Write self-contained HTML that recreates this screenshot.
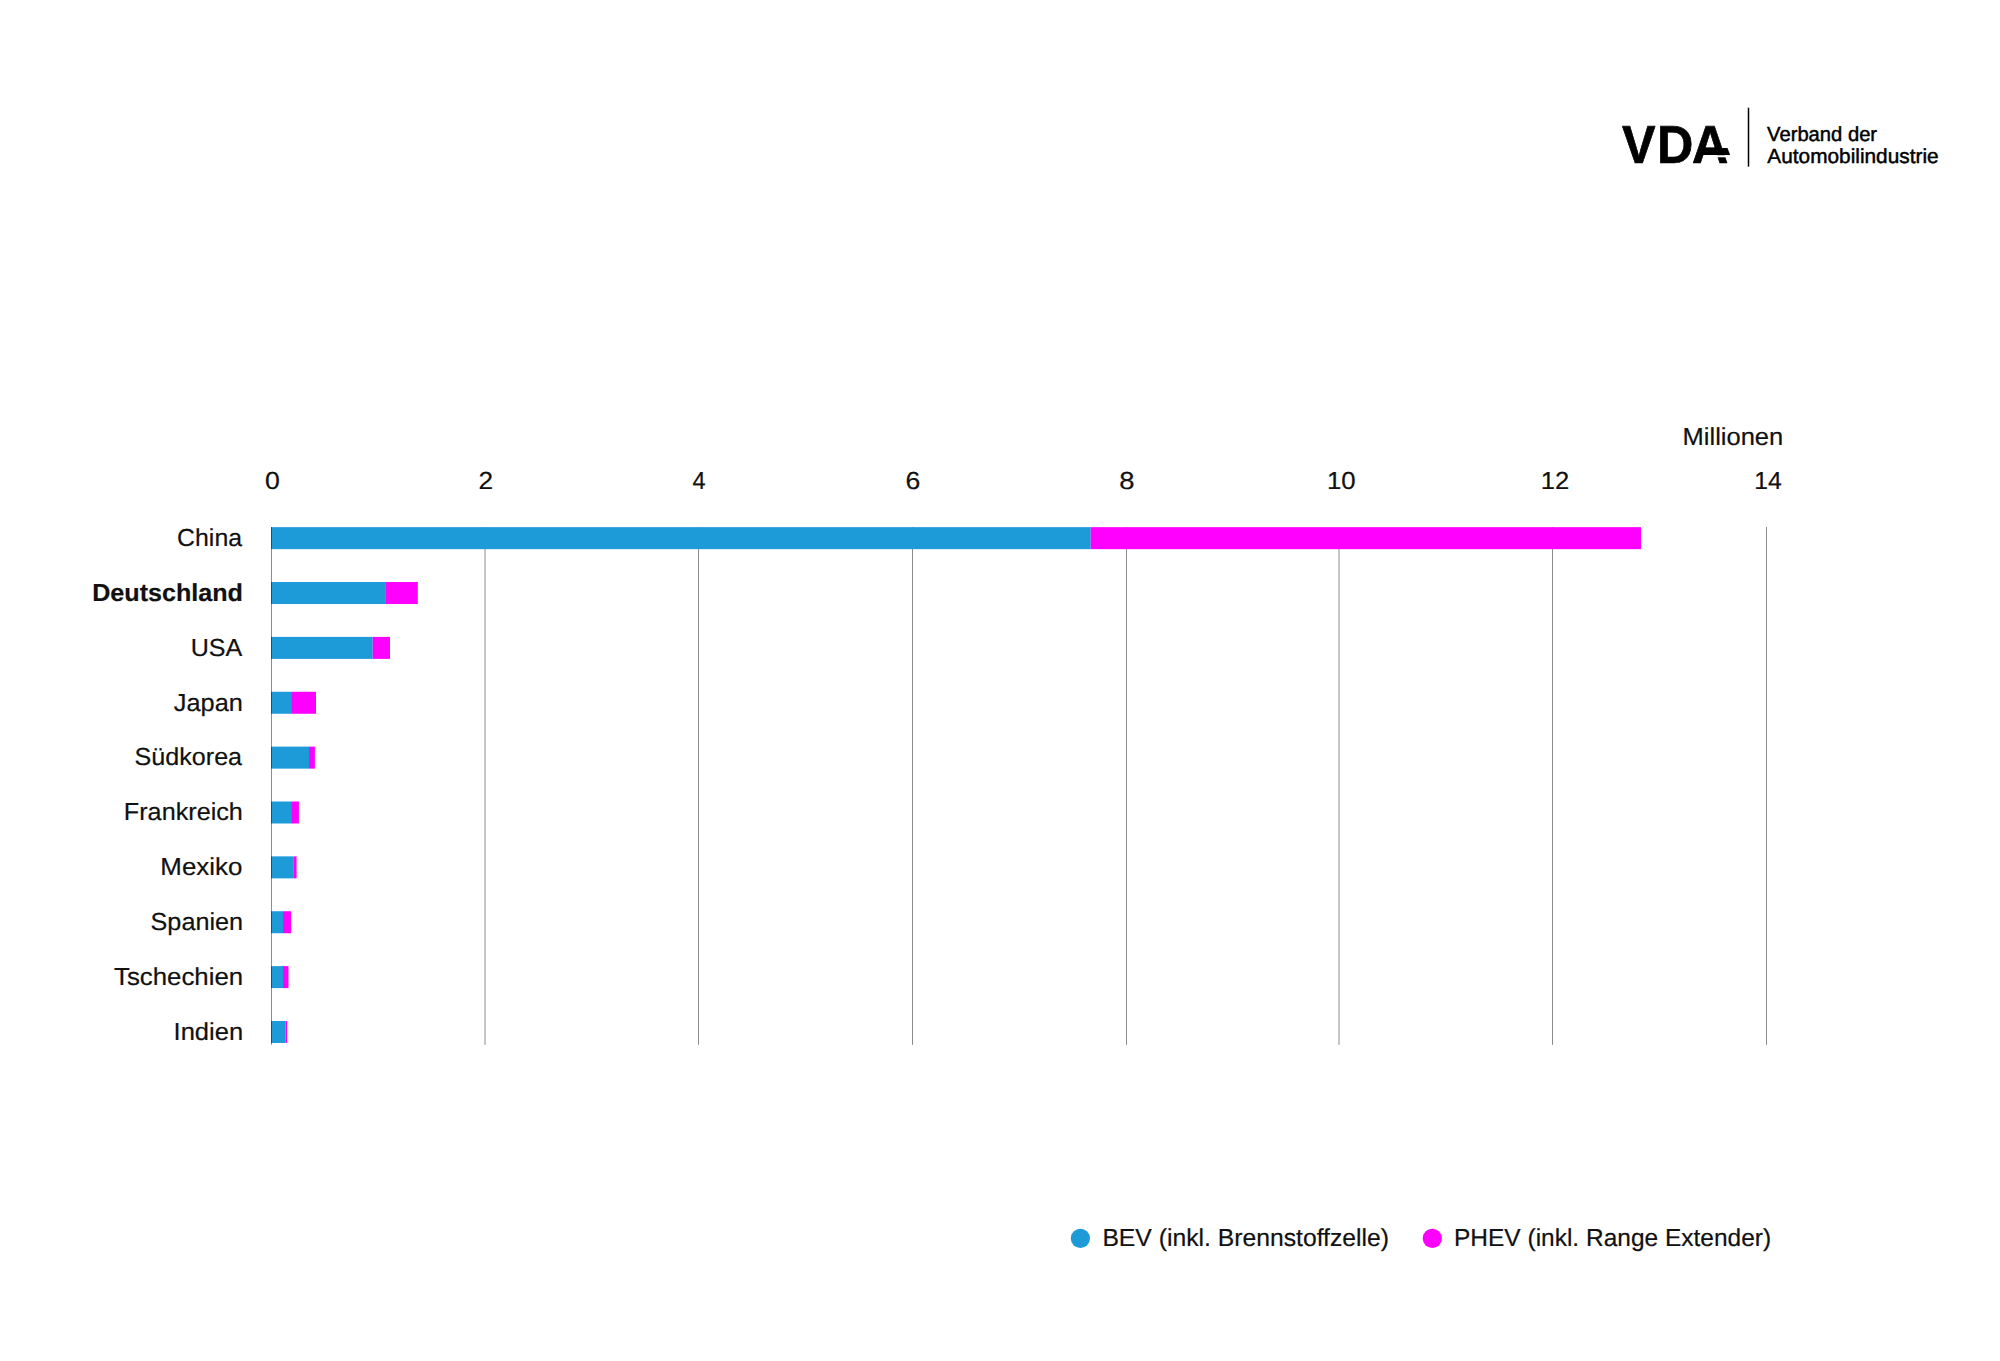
<!DOCTYPE html>
<html lang="de">
<head>
<meta charset="utf-8">
<title>Produktion von Elektro-Pkw nach Ländern</title>
<style>
html,body{margin:0;padding:0;background:#fff;}
body{width:2000px;height:1361px;overflow:hidden;}
svg{display:block;}
text{font-family:"Liberation Sans",Arial,Helvetica,sans-serif;fill:#111111;text-rendering:geometricPrecision;}
.t{font-size:24.6px;stroke:#111111;stroke-width:0.2px;}
.b{font-weight:700;}
.lg{font-size:20.4px;fill:#000;stroke:#000;stroke-width:0.45px;}
</style>
</head>
<body>
<svg width="2000" height="1361" viewBox="0 0 2000 1361">
<rect width="2000" height="1361" fill="#ffffff"/>
<g id="grid" stroke="#8c8c8c" stroke-width="1">
<line x1="485.0" y1="527" x2="485.0" y2="1044.8"/>
<line x1="698.5" y1="527" x2="698.5" y2="1044.8"/>
<line x1="912.5" y1="527" x2="912.5" y2="1044.8"/>
<line x1="1126.5" y1="527" x2="1126.5" y2="1044.8"/>
<line x1="1339.0" y1="527" x2="1339.0" y2="1044.8"/>
<line x1="1552.5" y1="527" x2="1552.5" y2="1044.8"/>
<line x1="1766.5" y1="527" x2="1766.5" y2="1044.8"/>
</g>
<g id="bars">
<rect x="271" y="527.15" width="819.70" height="22.0" fill="#1c9bd8"/><rect x="1090.70" y="527.15" width="550.30" height="22.0" fill="#ff00ff"/>
<rect x="271" y="582.02" width="114.90" height="22.0" fill="#1c9bd8"/><rect x="385.90" y="582.02" width="31.90" height="22.0" fill="#ff00ff"/>
<rect x="271" y="636.89" width="101.70" height="22.0" fill="#1c9bd8"/><rect x="372.70" y="636.89" width="17.30" height="22.0" fill="#ff00ff"/>
<rect x="271" y="691.76" width="20.10" height="22.0" fill="#1c9bd8"/><rect x="291.10" y="691.76" width="24.90" height="22.0" fill="#ff00ff"/>
<rect x="271" y="746.63" width="38.00" height="22.0" fill="#1c9bd8"/><rect x="309.00" y="746.63" width="5.90" height="22.0" fill="#ff00ff"/>
<rect x="271" y="801.50" width="20.10" height="22.0" fill="#1c9bd8"/><rect x="291.10" y="801.50" width="7.80" height="22.0" fill="#ff00ff"/>
<rect x="271" y="856.37" width="22.30" height="22.0" fill="#1c9bd8"/><rect x="293.30" y="856.37" width="3.30" height="22.0" fill="#ff00ff"/>
<rect x="271" y="911.24" width="12.00" height="22.0" fill="#1c9bd8"/><rect x="283.00" y="911.24" width="8.10" height="22.0" fill="#ff00ff"/>
<rect x="271" y="966.11" width="12.00" height="22.0" fill="#1c9bd8"/><rect x="283.00" y="966.11" width="5.50" height="22.0" fill="#ff00ff"/>
<rect x="271" y="1020.98" width="14.40" height="22.0" fill="#1c9bd8"/><rect x="285.40" y="1020.98" width="1.80" height="22.0" fill="#ff00ff"/>
</g>
<line x1="271.5" y1="527" x2="271.5" y2="1044.8" stroke="#000000" stroke-opacity="0.45" stroke-width="1"/>
<g id="xaxis">
<text class="t" x="264.94" y="489.00" textLength="14.84" lengthAdjust="spacingAndGlyphs">0</text>
<text class="t" x="478.43" y="489.00" textLength="14.60" lengthAdjust="spacingAndGlyphs">2</text>
<text class="t" x="692.57" y="489.00" textLength="13.06" lengthAdjust="spacingAndGlyphs">4</text>
<text class="t" x="905.57" y="489.00" textLength="14.81" lengthAdjust="spacingAndGlyphs">6</text>
<text class="t" x="1119.24" y="489.00" textLength="15.28" lengthAdjust="spacingAndGlyphs">8</text>
<text class="t" x="1326.94" y="489.00" textLength="28.63" lengthAdjust="spacingAndGlyphs">10</text>
<text class="t" x="1540.74" y="489.00" textLength="28.49" lengthAdjust="spacingAndGlyphs">12</text>
<text class="t" x="1754.31" y="489.00" textLength="27.49" lengthAdjust="spacingAndGlyphs">14</text>
<text class="t" x="1682.54" y="445.20" textLength="100.72" lengthAdjust="spacingAndGlyphs">Millionen</text>
</g>
<g id="labels">
<text class="t" x="177.05" y="545.90" textLength="65.05" lengthAdjust="spacingAndGlyphs">China</text>
<text class="t b" x="92.19" y="600.79" textLength="150.70" lengthAdjust="spacingAndGlyphs">Deutschland</text>
<text class="t" x="190.72" y="655.68" textLength="51.63" lengthAdjust="spacingAndGlyphs">USA</text>
<text class="t" x="173.82" y="710.57" textLength="69.07" lengthAdjust="spacingAndGlyphs">Japan</text>
<text class="t" x="134.51" y="765.46" textLength="107.59" lengthAdjust="spacingAndGlyphs">Südkorea</text>
<text class="t" x="123.84" y="820.35" textLength="119.05" lengthAdjust="spacingAndGlyphs">Frankreich</text>
<text class="t" x="160.32" y="875.24" textLength="82.07" lengthAdjust="spacingAndGlyphs">Mexiko</text>
<text class="t" x="150.54" y="930.13" textLength="92.60" lengthAdjust="spacingAndGlyphs">Spanien</text>
<text class="t" x="113.99" y="985.02" textLength="129.18" lengthAdjust="spacingAndGlyphs">Tschechien</text>
<text class="t" x="173.59" y="1039.91" textLength="69.56" lengthAdjust="spacingAndGlyphs">Indien</text>
</g>
<g id="legend">
<circle cx="1080.4" cy="1238.4" r="9.6" fill="#1c9bd8"/>
<text class="t" x="1102.39" y="1245.80" textLength="286.67" lengthAdjust="spacingAndGlyphs">BEV (inkl. Brennstoffzelle)</text>
<circle cx="1432.3" cy="1238.4" r="9.6" fill="#ff00ff"/>
<text class="t" x="1454.01" y="1245.80" textLength="317.07" lengthAdjust="spacingAndGlyphs">PHEV (inkl. Range Extender)</text>
</g>
<g id="logo">
<text transform="translate(0,163.2) scale(0.985,1.048)" x="1646.80 1682.34 1717.66" y="0" style="font-size:51px;font-weight:700;fill:#000;stroke:#000;stroke-width:0.7px;stroke-linejoin:round">VDA</text>
<polygon points="1702,148.1 1727.5,148.1 1730.1,155.1 1699.5,155.1" fill="#000"/>
<polygon points="1713,155.2 1733,155.2 1733,157.3 1713,157.3" fill="#fff"/>
<line x1="1748.5" y1="107.7" x2="1748.5" y2="166.6" stroke="#000" stroke-width="1.5"/>
<text class="lg" x="1767.10" y="141.20" textLength="110.00" lengthAdjust="spacingAndGlyphs">Verband der</text>
<text class="lg" x="1767.35" y="162.90" textLength="171.25" lengthAdjust="spacingAndGlyphs">Automobilindustrie</text>
</g>
</svg>
</body>
</html>
